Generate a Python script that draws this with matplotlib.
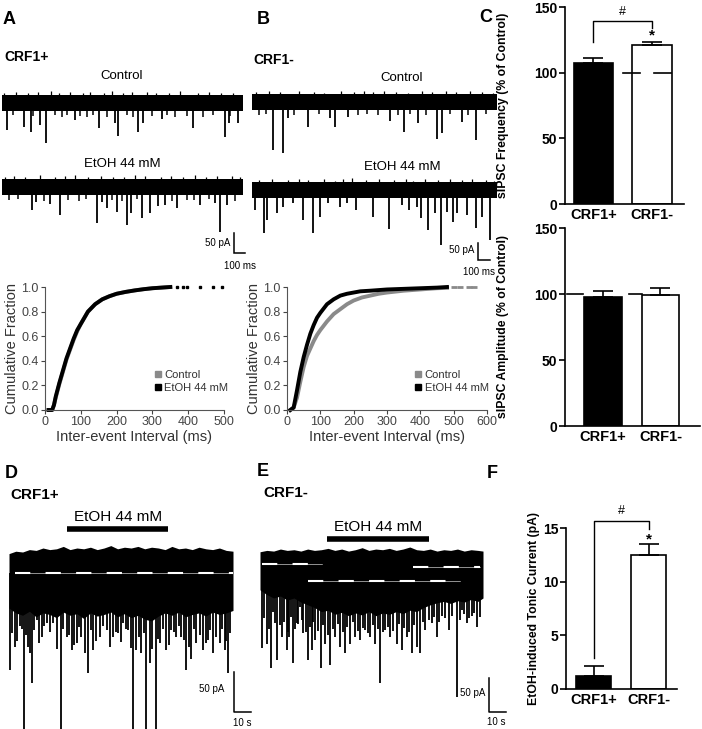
import numpy as np
import matplotlib
matplotlib.use('Agg')
from matplotlib import pyplot as plt

plt.rcParams['font.family'] = ['Liberation Sans', 'DejaVu Sans']
plt.rcParams['lines.scale_dashes'] = False

W, H = 702, 729

# ---- A / B : sIPSC traces (time in ms, amplitude in pA below baseline)
a_ctl_t = [43, 200, 261, 346, 400, 664, 883, 1028, 1056, 1238, 1283, 1456, 1738, 2029, 2066, 2148]
a_ctl_amp = [67, 60, 72, 55, 100, 42, 63, 50, 82, 72, 50, 40, 63, 85, 50, 50]
a_ctl_small_t = [100, 285, 482, 543, 590, 710, 777, 831, 952, 1134, 1195, 1362, 1498, 1574, 1680, 1832, 1923, 2075]
a_ctl_small_amp = [30, 33, 30, 35, 29, 32, 36, 31, 34, 30, 35, 33, 31, 36, 32, 34, 30, 33]
a_ctl_up_t = [20, 130, 240, 330, 450, 520, 620, 740, 800, 930, 1000, 1100, 1180, 1320, 1400, 1520, 1620, 1780, 1880, 1990, 2100]
a_ctl_up_amp = [25, 28, 24, 27, 29, 25, 27, 24, 28, 26, 29, 25, 27, 28, 24, 26, 29, 25, 27, 24, 26]

a_eth_t = [276, 309, 437, 528, 862, 907, 958, 1049, 1135, 1171, 1271, 1347, 1420, 1483, 1593, 1802, 1938, 1984, 2048]
a_eth_amp = [57, 37, 42, 70, 90, 37, 52, 62, 95, 65, 77, 65, 48, 45, 52, 45, 40, 112, 45]
a_eth_small_t = [60, 150, 380, 600, 700, 760, 1000, 1090, 1230, 1550, 1680, 1750, 1880, 2120]
a_eth_small_amp = [33, 31, 35, 32, 34, 30, 33, 35, 31, 34, 32, 33, 30, 34]
a_eth_up_t = [30, 110, 210, 350, 480, 570, 660, 780, 900, 1010, 1110, 1210, 1300, 1450, 1540, 1650, 1760, 1860, 1960, 2090, 2170]
a_eth_up_amp = [26, 28, 25, 29, 24, 27, 30, 25, 28, 26, 24, 29, 27, 25, 28, 26, 29, 24, 27, 28, 25]

b_ctl_t = [177, 256, 302, 469, 650, 691, 802, 1150, 1266, 1385, 1541, 1579, 1749, 1862]
b_ctl_amp = [144, 153, 48, 75, 48, 75, 44, 57, 90, 63, 111, 93, 60, 114]
b_ctl_small_t = [60, 120, 350, 560, 880, 960, 1050, 1220, 1320, 1450, 1650, 1800, 1950]
b_ctl_small_amp = [38, 36, 40, 37, 39, 36, 38, 40, 37, 39, 36, 38, 37]
b_ctl_up_t = [30, 140, 230, 390, 520, 600, 740, 850, 930, 1010, 1100, 1200, 1300, 1420, 1500, 1620, 1700, 1820, 1920, 2010]
b_ctl_up_amp = [30, 33, 29, 34, 31, 28, 33, 30, 34, 29, 32, 31, 28, 34, 30, 33, 29, 32, 31, 28]

b_eth_t = [25, 100, 122, 206, 261, 344, 422, 511, 566, 636, 733, 789, 866, 1005, 1141,
           1247, 1310, 1372, 1405, 1469, 1524, 1572, 1622, 1672, 1710, 1788, 1866, 1913, 1983]
b_eth_amp = [60, 129, 90, 70, 50, 40, 90, 129, 80, 40, 50, 40, 60, 80, 117,
             45, 60, 50, 84, 120, 69, 165, 65, 96, 69, 75, 114, 80, 150]
b_eth_up_t = [60, 170, 300, 390, 470, 600, 690, 760, 830, 950, 1060, 1180, 1280, 1340, 1440, 1550, 1650, 1750, 1830, 1950, 2020]
b_eth_up_amp = [31, 34, 29, 33, 30, 34, 28, 32, 35, 29, 33, 31, 34, 28, 32, 30, 34, 29, 33, 31, 28]

# ---- A / B : cumulative distributions of inter-event interval
cdf_a_ms = [10, 20, 25, 30, 40, 50, 60, 70, 80, 90, 100, 120, 140, 160, 180, 200, 225, 250, 275, 300, 325, 350]
cdf_a_ctl = [0, 0.0, 0.04, 0.10, 0.21, 0.31, 0.41, 0.49, 0.57, 0.64, 0.70, 0.80, 0.86, 0.90, 0.925, 0.945, 0.96, 0.972, 0.982, 0.99, 0.995, 1.0]
cdf_a_eth = [0, 0.0, 0.04, 0.11, 0.22, 0.32, 0.42, 0.50, 0.58, 0.65, 0.70, 0.80, 0.86, 0.90, 0.925, 0.945, 0.96, 0.972, 0.982, 0.99, 0.995, 1.0]
tail_a_ms = [370, 385, 397, 433, 469, 494]

cdf_b_eth_ms = [10, 20, 30, 40, 50, 60, 70, 80, 90, 100, 120, 140, 160, 180, 200, 220, 250, 300, 350, 400, 450, 480]
cdf_b_eth = [0, 0.02, 0.16, 0.31, 0.43, 0.53, 0.62, 0.69, 0.75, 0.79, 0.86, 0.90, 0.93, 0.945, 0.955, 0.965, 0.97, 0.98, 0.985, 0.99, 0.995, 1.0]
cdf_b_ctl_ms = [10, 20, 30, 40, 50, 60, 70, 80, 90, 100, 120, 140, 160, 180, 200, 225, 250, 275, 300, 350, 400, 450, 480]
cdf_b_ctl = [0, 0.02, 0.10, 0.23, 0.35, 0.44, 0.50, 0.56, 0.61, 0.65, 0.72, 0.78, 0.82, 0.86, 0.89, 0.915, 0.93, 0.945, 0.955, 0.97, 0.98, 0.99, 0.993]
tail_b_ctl_ms = [500, 520, 545, 560]

# ---- C / F : bar summaries
groups = ['CRF1+', 'CRF1-']
freq = [107, 121]
freq_err = [4, 2]
ampl = [97.5, 99.5]
ampl_err = [5, 5]
tonic = [1.2, 12.5]
tonic_err = [0.9, 1.0]
ref100_freq = [(0.50, 0.80), (1.03, 1.33)]
ref100_ampl = [(-0.63, -0.35), (0.45, 0.68)]

# ---- D / E : long recordings (time in s, pA relative to holding current)
d_env_t = [0, 4, 8, 12, 16, 20, 24, 28, 32, 36, 40, 44, 48, 52, 56, 60, 64, 68,
           72, 76, 80, 84, 88, 92, 96, 100, 104, 108, 112, 116, 120, 124, 128, 132]
d_env_low = [-44, -50, -53, -48, -55, -50, -52, -56, -49, -53, -51, -57, -50, -54, -52, -49, -55, -51,
             -56, -53, -58, -60, -54, -50, -53, -49, -55, -52, -50, -54, -49, -52, -50, -47]
d_env_top = [24, 27, 26, 29, 28, 31, 29, 30, 33, 29, 31, 30, 32, 29, 31, 34, 30, 32,
             31, 33, 30, 32, 31, 29, 33, 30, 31, 29, 32, 30, 29, 31, 28, 27]
d_spike_t = [0.6, 3.5, 6.5, 8.8, 11.4, 13.3, 16.3, 19.2, 22.2, 26.1, 30.6, 33.9, 36.9, 39.8, 42.7,
             46.7, 49.6, 53.5, 57.5, 61.4, 64.3, 67.3, 70.2, 73.1, 75.1, 78.0, 81.0, 82.9, 86.9,
             88.8, 92.7, 95.7, 98.6, 101.6, 104.5, 107.5, 110.4, 114.3, 117.3, 120.2, 124.1, 127.1, 129.0]
d_spike_amp = [121, 92, 67, 200, 92, 138, 59, 80, 63, 63, 200, 80, 96, 88, 80,
               125, 96, 80, 71, 80, 75, 63, 71, 200, 96, 100, 200, 113, 200,
               88, 96, 71, 80, 80, 121, 108, 88, 96, 84, 100, 88, 96, 125]
d_mid_t = [2.0, 5.0, 7.5, 10.0, 12.3, 14.8, 17.8, 20.7, 24.0, 28.0, 32.0, 35.4, 38.3, 41.2,
           44.7, 48.1, 51.5, 55.5, 59.5, 63.0, 65.8, 68.8, 71.7, 76.5, 79.5, 84.5, 87.8, 90.7,
           94.2, 97.2, 100.1, 103.0, 106.0, 109.0, 112.4, 115.8, 118.7, 122.2, 125.6, 128.0, 130.5]
d_mid_amp = [75, 85, 70, 78, 100, 72, 88, 66, 74, 95, 70, 77, 90, 68,
             100, 72, 85, 66, 92, 74, 86, 70, 94, 80, 75, 95, 82, 70,
             90, 74, 66, 84, 92, 70, 78, 88, 72, 80, 70, 85, 75]
d_hold = [(3.5, 132, 0)]

e_env_t = [0, 4, 8, 12, 16, 20, 24, 28, 32, 36, 40, 44, 48, 52, 56, 60, 64, 68,
           72, 76, 80, 84, 88, 92, 96, 100, 104, 108, 112, 116, 120, 124, 128, 131]
e_env_low = [-38, -45, -50, -47, -53, -50, -56, -60, -64, -70, -68, -74, -71, -76, -72, -75, -70, -76,
             -72, -74, -70, -73, -68, -70, -64, -60, -57, -55, -58, -54, -56, -52, -55, -50]
e_env_top = [18, 20, 19, 22, 20, 21, 19, 22, 20, 21, 23, 20, 22, 19, 21, 24, 20, 22,
             21, 23, 20, 22, 25, 21, 20, 22, 19, 21, 20, 22, 19, 21, 20, 19]
e_spike_t = [1.0, 3.9, 6.3, 8.8, 10.2, 12.7, 15.7, 17.3, 19.6, 21.6, 23.5, 25.5, 28.4, 30.4, 32.4,
             35.7, 38.2, 41.2, 44.1, 47.1, 50.0, 52.9, 55.9, 58.8, 61.8, 64.7, 67.6, 70.6, 73.5,
             76.5, 80.4, 83.3, 86.3, 89.2, 92.2, 94.1, 97.1, 101.0, 103.9, 106.9, 110.8, 115.7,
             118.6, 121.6, 124.5, 127.5]
e_spike_amp = [124, 117, 153, 87, 141, 107, 126, 107, 146, 87, 63, 102, 141, 126, 112,
               153, 117, 149, 107, 122, 131, 117, 107, 112, 97, 107, 117, 175, 97,
               107, 117, 126, 107, 131, 122, 131, 97, 87, 107, 77, 97, 196,
               68, 87, 77, 92]
e_mid_t = [2.4, 5.2, 7.5, 11.5, 14.2, 16.5, 18.5, 20.6, 22.5, 24.5, 27.0, 29.4, 31.4, 34.0,
           37.0, 39.7, 42.6, 45.6, 48.5, 51.4, 54.4, 57.3, 60.3, 63.2, 66.1, 69.1, 72.0, 75.0,
           78.4, 81.8, 84.8, 87.7, 90.7, 95.6, 99.0, 102.4, 105.4, 108.8, 113.0, 117.2, 120.0,
           123.0, 126.0, 129.0]
e_mid_amp = [80, 95, 70, 90, 85, 100, 78, 96, 88, 82, 100, 92, 85, 98,
             90, 104, 95, 88, 100, 92, 86, 98, 94, 102, 90, 96, 100, 92,
             98, 88, 94, 100, 90, 86, 82, 78, 85, 80, 76, 82, 74,
             80, 72, 78]
e_hold = [(1.2, 36.5, 0), (28.2, 117.6, -25), (90, 129.4, -4.4)]


fig = plt.figure(figsize=(W / 100, H / 100), dpi=100)


def px_axes(x0, y0, x1, y1):
    return fig.add_axes([x0 / W, 1 - y1 / H, (x1 - x0) / W, (y1 - y0) / H])


def ftext(x, y, s, **kw):
    kw.setdefault('ha', 'left')
    kw.setdefault('va', 'center')
    fig.text(x / W, 1 - y / H, s, **kw)


def sipsc_trace(ax, t_end, noise, ev_t, ev_a, sm_t, sm_a, up_t, up_a):
    ax.fill_between([0, t_end], -noise, noise, color='k', lw=0)
    ax.vlines(ev_t, 0, -np.array(ev_a), color='k', lw=1.3)
    if len(sm_t):
        ax.vlines(sm_t, 0, -np.array(sm_a), color='k', lw=1.1)
    ax.vlines(up_t, 0, up_a, color='k', lw=0.9)
    ax.set_xlim(0, t_end)
    ax.axis('off')


def scale_bar(ax, x, y, dx, dy, lab_y, lab_x, pos_y, pos_x):
    ax.plot([x, x, x + dx], [y, y - dy, y - dy], color='k', lw=1.1, clip_on=False,
            solid_joinstyle='miter')
    ax.text(pos_y[0], pos_y[1], lab_y, fontsize=7, ha='right', va='center')
    ax.text(pos_x[0], pos_x[1], lab_x, fontsize=7, ha='center', va='center')


# ---------------- A traces
ax = px_axes(2, 85, 243, 160)
sipsc_trace(ax, 2193, 19, a_ctl_t, a_ctl_amp, a_ctl_small_t, a_ctl_small_amp, a_ctl_up_t, a_ctl_up_amp)
ax.set_ylim(-142.5, 45)
ax = px_axes(2, 165, 243, 270)
sipsc_trace(ax, 2193, 19, a_eth_t, a_eth_amp, a_eth_small_t, a_eth_small_amp, a_eth_up_t, a_eth_up_amp)
ax.set_ylim(-207.5, 55)
scale_bar(ax, 2111, -115, 100, 50, '50 pA', '100 ms', (2080, -140), (2166, -197))

# ---------------- B traces
ax = px_axes(252, 85, 497, 165)
sipsc_trace(ax, 2041, 23, b_ctl_t, b_ctl_amp, b_ctl_small_t, b_ctl_small_amp, b_ctl_up_t, b_ctl_up_amp)
ax.set_ylim(-189, 51)
ax = px_axes(252, 168, 497, 280)
sipsc_trace(ax, 2041, 23, b_eth_t, b_eth_amp, [], [], b_eth_up_t, b_eth_up_amp)
ax.set_ylim(-270, 66)
scale_bar(ax, 1883, -159, 100, 50, '50 pA', '100 ms', (1855, -180), (1890, -246))

ftext(3, 20, 'A', fontsize=13, fontweight='bold')
ftext(4, 57, 'CRF1+', fontsize=10, fontweight='bold')
ftext(122, 76, 'Control', fontsize=9.5, ha='center')
ftext(122, 164, 'EtOH 44 mM', fontsize=9.5, ha='center')
ftext(257, 20, 'B', fontsize=13, fontweight='bold')
ftext(253, 60, 'CRF1-', fontsize=10, fontweight='bold')
ftext(402, 78, 'Control', fontsize=9.5, ha='center')
ftext(402, 167, 'EtOH 44 mM', fontsize=9.5, ha='center')
ftext(479, 18, 'C', fontsize=13, fontweight='bold')

# ---------------- A / B cumulative plots
GRAY = '#8a8a8a'


def cdf_axes(ax, xmax):
    for s in ['top', 'right']:
        ax.spines[s].set_visible(False)
    for s in ['left', 'bottom']:
        ax.spines[s].set_color('#555555')
        ax.spines[s].set_linewidth(0.8)
    ax.set_xlim(0, xmax)
    ax.set_ylim(0, 1.0)
    ax.set_xticks(np.arange(0, xmax + 1, 100))
    ax.set_yticks([0, 0.2, 0.4, 0.6, 0.8, 1.0])
    ax.set_yticklabels(['0.0', '0.2', '0.4', '0.6', '0.8', '1.0'])
    ax.tick_params(labelsize=9, colors='#444444', length=3, width=0.8, pad=1.5)
    ax.set_ylabel('Cumulative Fraction', fontsize=10.5, color='#333333', labelpad=2)
    ax.set_xlabel('Inter-event Interval (ms)', fontsize=10.5, color='#333333', labelpad=1)
    ax.patch.set_alpha(0)


leg_kw = dict(loc='upper left', frameon=False, fontsize=8, handlelength=0.6, handletextpad=0.3,
              labelspacing=0.25, borderpad=0, labelcolor='#333333')

ax = px_axes(45, 287, 224, 410)
ax.plot(cdf_a_ms, cdf_a_ctl, color=GRAY, lw=2.8, clip_on=False)
ax.plot(cdf_a_ms, cdf_a_eth, color='k', lw=2.8, clip_on=False)
ax.plot(tail_a_ms, np.ones(len(tail_a_ms)), 's', color='k', ms=1.5, clip_on=False)
ax.plot([], [], 's', color=GRAY, ms=4, label='Control')
ax.plot([], [], 's', color='k', ms=4, label='EtOH 44 mM')
cdf_axes(ax, 500)
ax.legend(bbox_to_anchor=(0.58, 0.37), **leg_kw)

ax = px_axes(287, 287, 487, 410)
ax.plot(cdf_b_ctl_ms, cdf_b_ctl, color=GRAY, lw=2.8, clip_on=False)
ax.plot(tail_b_ctl_ms, np.full(len(tail_b_ctl_ms), 0.996), '_', color=GRAY, ms=4, mew=2, clip_on=False)
ax.plot(cdf_b_eth_ms, cdf_b_eth, color='k', lw=2.8, clip_on=False)
ax.plot([], [], 's', color=GRAY, ms=4, label='Control')
ax.plot([], [], 's', color='k', ms=4, label='EtOH 44 mM')
cdf_axes(ax, 600)
ax.legend(bbox_to_anchor=(0.61, 0.37), **leg_kw)


# ---------------- bar panels
def bar_panel(ax, vals, errs, width, ylim, yticks, ylabel, xlim, pad):
    ax.bar([0, 1], vals, width=width, color=['k', 'w'], edgecolor='k', lw=1.2, zorder=2)
    ax.errorbar([0, 1], vals, yerr=[np.zeros(2), errs], fmt='none', ecolor='k',
                elinewidth=1.2, capsize=7, capthick=1.2, zorder=3)
    for s in ['top', 'right']:
        ax.spines[s].set_visible(False)
    for s in ['left', 'bottom']:
        ax.spines[s].set_linewidth(1.2)
    ax.set_xlim(*xlim)
    ax.set_ylim(*ylim)
    ax.set_yticks(yticks)
    ax.set_xticks([0, 1])
    ax.set_xticklabels(groups, fontsize=10.5, fontweight='bold')
    ax.tick_params(axis='x', length=0, pad=3)
    ax.tick_params(axis='y', length=4, width=1.2, pad=1.5, labelsize=10)
    for lab in ax.get_yticklabels():
        lab.set_fontweight('bold')
    ax.set_ylabel(ylabel, fontsize=8.8, fontweight='bold', labelpad=pad)
    ax.patch.set_alpha(0)


ax = px_axes(565, 7, 684, 204)
bar_panel(ax, freq, freq_err, 0.67, (0, 150), [0, 50, 100, 150],
          'sIPSC Frequency (% of Control)', (-0.487, 1.547), 18)
for a0, a1 in ref100_freq:
    ax.plot([a0, a1], [100, 100], color='k', lw=1.2, zorder=4)
ax.plot([0, 0, 1, 1], [123, 139, 139, 134], color='k', lw=1.0, clip_on=False)
ax.text(0.5, 146, '#', ha='center', va='center', fontsize=9)
ax.text(1, 128, '*', ha='center', va='center', fontsize=11, fontweight='bold')

ax = px_axes(565, 228, 700, 426)
bar_panel(ax, ampl, ampl_err, 0.66, (0, 150), [0, 50, 100, 150],
          'sIPSC Amplitude (% of Control)', (-0.66, 1.687), 18)
for a0, a1 in ref100_ampl:
    ax.plot([a0, a1], [100, 100], color='k', lw=1.2, zorder=4)

ax = px_axes(566, 528, 677, 689)
bar_panel(ax, tonic, tonic_err, 0.64, (0, 15), [0, 5, 10, 15],
          'EtOH-induced Tonic Current (pA)', (-0.5, 1.518), 2)
ax.plot([0, 0, 1, 1], [2.9, 15.66, 15.66, 14.9], color='k', lw=1.0, clip_on=False)
ax.text(0.5, 16.6, '#', ha='center', va='center', fontsize=9)
ax.text(1, 13.9, '*', ha='center', va='center', fontsize=11, fontweight='bold')
ftext(487, 473, 'F', fontsize=13, fontweight='bold')


# ---------------- D / E long recordings
def long_trace(ax, t_end, env_t, env_low, env_top, sp_t, sp_a, mid_t, mid_a, holds):
    ax.fill_between(env_t, env_low, env_top, color='k', lw=0)
    ax.vlines(sp_t, 0, -np.array(sp_a), color='k', lw=1.3)
    ax.vlines(mid_t, 0, -np.array(mid_a), color='k', lw=1.3)
    for t0, t1, lvl in holds:
        ax.plot([t0, t1], [lvl, lvl], color='w', lw=0.4)
        ax.plot([t0, t1], [lvl, lvl], color='w', lw=1.5, linestyle=(0, (11, 11)))
    ax.set_xlim(0, t_end)
    ax.axis('off')


ax = px_axes(9, 540, 233, 729)
long_trace(ax, 132, d_env_t, d_env_low, d_env_top, d_spike_t, d_spike_amp, d_mid_t, d_mid_amp, d_hold)
ax.set_ylim(-195, 41)
ax.plot([34.1, 93.5], [55, 55], color='k', lw=4, solid_capstyle='butt', clip_on=False)
ax.text(64.1, 70, 'EtOH 44 mM', ha='center', va='center', fontsize=11)
ax.plot([132.4, 132.4, 142.4], [-124, -174, -174], color='k', lw=1.1, clip_on=False)
ax.text(127, -145, '50 pA', ha='right', va='center', fontsize=7)
ax.text(137.6, -187.5, '10 s', ha='center', va='center', fontsize=7)
ftext(5, 473, 'D', fontsize=13, fontweight='bold')
ftext(10, 495, 'CRF1+', fontsize=11, fontweight='bold')

ax = px_axes(260, 540, 483, 729)
long_trace(ax, 131, e_env_t, e_env_low, e_env_top, e_spike_t, e_spike_amp, e_mid_t, e_mid_amp, e_hold)
ax.set_ylim(-242.6, 35.3)
ax.plot([39.2, 99.0], [36.8, 36.8], color='k', lw=4, solid_capstyle='butt', clip_on=False)
ax.text(69.4, 54.4, 'EtOH 44 mM', ha='center', va='center', fontsize=11)
ax.plot([134.7, 134.7, 144.7], [-167.6, -217.6, -217.6], color='k', lw=1.1, clip_on=False)
ax.text(132.5, -190, '50 pA', ha='right', va='center', fontsize=7)
ax.text(139, -232, '10 s', ha='center', va='center', fontsize=7)
ftext(257, 472, 'E', fontsize=13, fontweight='bold')
ftext(263, 493, 'CRF1-', fontsize=11, fontweight='bold')

fig.savefig('out.png', dpi=100)
